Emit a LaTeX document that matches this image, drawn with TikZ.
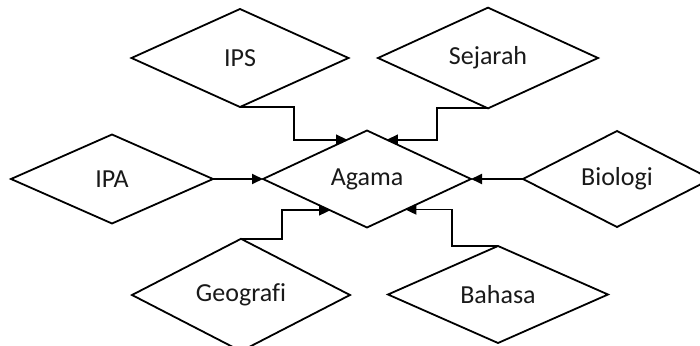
\documentclass[tikz,border=0pt]{standalone}
\usepackage{fontspec}
\setmainfont{Carlito}[Ligatures=NoCommon]
\usetikzlibrary{shapes.geometric,arrows.meta,calc}
\tikzset{
  dia/.style={diamond, draw=black, line width=1.8pt, inner sep=0pt, outer sep=0pt,
    font=\fontsize{26}{30}\selectfont, text=black!90},
  arr/.style={line width=1.8pt, -{Triangle[length=11pt,width=10pt]}}
}
\begin{document}
\begin{tikzpicture}[x=1pt,y=-1pt]
\useasboundingbox (0,0) rectangle (700,345);
\node[dia, minimum width=217pt, minimum height=98pt] (ips) at (240,58) {IPS};
\node[dia, minimum width=220pt, minimum height=98pt] (sej) at (488,58) {Sejarah};
\node[dia, minimum width=202pt, minimum height=89pt] (ipa) at (112,179) {IPA};
\node[dia, minimum width=208pt, minimum height=97pt] (agama) at (367,179) {Agama};
\node[dia, minimum width=188pt, minimum height=96pt] (bio) at (617,179) {Biologi};
\node[dia, minimum width=218pt, minimum height=97pt] (geo) at (241,295) {Geografi};
\node[dia, minimum width=220pt, minimum height=97pt] (bah) at (498,294.5) {Bahasa};
\coordinate (a1) at ($(agama.west)!0.81!(agama.north)$);
\coordinate (a2) at ($(agama.east)!0.81!(agama.north)$);
\coordinate (a3) at ($(agama.west)!0.646!(agama.south)$);
\coordinate (a4) at ($(agama.east)!0.63!(agama.south)$);
\draw[arr] (ips.south) -| ([xshift=-53pt]a1) -- (a1);
\draw[arr] (sej.south) -| ([xshift=50pt]a2) -- (a2);
\draw[arr] (geo.north) -| ([xshift=-48pt]a3) -- (a3);
\draw[arr] (bah.north) -| ([xshift=46.5pt]a4) -- (a4);
\draw[arr] (ipa.east) -- (agama.west);
\draw[arr] (bio.west) -- (agama.east);
\end{tikzpicture}
\end{document}
